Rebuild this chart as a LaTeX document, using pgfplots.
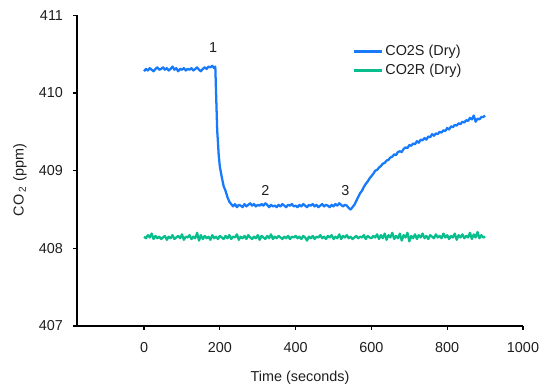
\documentclass[border=0pt]{standalone}
\usepackage{pgfplots}
\pgfplotsset{compat=1.18}
\usepackage{fontspec}
\setmainfont{Liberation Sans}
\definecolor{cblue}{RGB}{22,122,250}
\definecolor{cgreen}{RGB}{8,190,140}
\definecolor{ctext}{RGB}{30,30,30}
\newcommand{\ff}{\fontsize{10.8pt}{13pt}\selectfont}
\begin{document}
\begin{tikzpicture}
\useasboundingbox (-57.75pt,-48pt) rectangle (357pt,244.5pt);
\begin{axis}[
  scale only axis, width=334.5pt, height=233pt,
  xmin=-177, xmax=1000, ymin=407, ymax=411,
  axis x line*=bottom, axis y line*=left,
  axis line style={line width=0.9pt, -},
  xtick={0,200,400,600,800,1000},
  ytick={407,408,409,410,411},
  tick align=outside, major tick length=3pt,
  tick style={line width=0.9pt, black},
  /pgf/number format/assume math mode=true,
  /pgf/number format/1000 sep={},
  tick label style={font=\ff, text=ctext},
  xticklabel style={yshift=-6pt},
  yticklabel style={xshift=-4pt},
  xlabel={Time (seconds)},
  ylabel={CO\,\textsubscript{2}\,\,(ppm)},
  xlabel style={font=\ff, text=ctext, at={(axis description cs:0.5,-0.167)}, anchor=center},
  ylabel style={font=\ff, text=ctext, at={(axis description cs:-0.128,0.47)}, anchor=center},
  clip=false,
  legend style={draw=none, fill=none, at={(rel axis cs:0.617,0.913)}, anchor=north west, font=\ff, text=ctext, row sep=1pt, inner sep=0pt},
  legend cell align=left,
  legend image code/.code={\draw[#1] (0pt,0pt) -- (21pt,0pt);},
]
\addplot[cblue, line width=1.7pt, line join=round] coordinates {
(0,410.28)(5,410.31)(10,410.29)(15,410.32)(20,410.30)(25,410.28)(30,410.31)(35,410.33)(40,410.30)(45,410.31)
(50,410.33)(55,410.30)(60,410.32)(65,410.29)(70,410.31)(75,410.34)(80,410.30)(85,410.32)(90,410.28)(95,410.31)
(100,410.30)(105,410.32)(110,410.29)(115,410.31)(120,410.30)(125,410.32)(130,410.29)(135,410.31)(140,410.33)(145,410.30)
(150,410.28)(155,410.31)(160,410.33)(165,410.31)(170,410.34)(175,410.33)(180,410.35)(185,410.32)(188,410.34)(190,410.00)
(193,409.52)(197,409.20)(200,409.05)(205,408.92)(210,408.80)(215,408.74)(220,408.66)(225,408.60)(230,408.57)(235,408.54)
(240,408.57)(245,408.53)(250,408.56)(255,408.55)(260,408.53)(265,408.57)(270,408.54)(275,408.56)(280,408.58)(285,408.55)
(290,408.57)(295,408.54)(300,408.56)(305,408.55)(310,408.57)(315,408.55)(320,408.58)(325,408.56)(330,408.53)(335,408.56)
(340,408.54)(345,408.55)(350,408.53)(355,408.56)(360,408.54)(365,408.57)(370,408.55)(375,408.53)(380,408.56)(385,408.55)
(390,408.57)(395,408.54)(400,408.55)(405,408.53)(410,408.56)(415,408.54)(420,408.57)(425,408.55)(430,408.53)(435,408.56)
(440,408.55)(445,408.57)(450,408.54)(455,408.56)(460,408.53)(465,408.55)(470,408.57)(475,408.54)(480,408.56)(485,408.55)
(490,408.53)(495,408.56)(500,408.54)(505,408.57)(510,408.55)(515,408.58)(520,408.56)(525,408.54)(530,408.56)(535,408.55)
(540,408.52)(545,408.50)(550,408.53)(555,408.56)(560,408.61)(565,408.66)(570,408.71)(575,408.74)(580,408.79)(585,408.83)
(590,408.86)(595,408.90)(600,408.93)(605,408.96)(610,409.00)(615,409.01)(620,409.04)(625,409.06)(630,409.09)(635,409.10)
(640,409.13)(645,409.14)(650,409.17)(655,409.18)(660,409.21)(665,409.20)(670,409.24)(675,409.25)(680,409.24)(685,409.28)
(690,409.30)(695,409.29)(700,409.33)(705,409.32)(710,409.35)(715,409.34)(720,409.38)(725,409.36)(730,409.40)(735,409.39)
(740,409.42)(745,409.40)(750,409.44)(755,409.43)(760,409.47)(765,409.45)(770,409.48)(775,409.47)(780,409.50)(785,409.49)
(790,409.52)(795,409.51)(800,409.55)(805,409.53)(810,409.57)(815,409.56)(820,409.59)(825,409.58)(830,409.61)(835,409.60)
(840,409.63)(845,409.62)(850,409.65)(855,409.64)(860,409.68)(865,409.66)(870,409.71)(875,409.63)(880,409.67)(885,409.66)
(890,409.69)(895,409.69)(900,409.71)
};
\addlegendentry{CO2S (Dry)}
\addplot[cgreen, line width=1.7pt, line join=round] coordinates {
(0,408.15)(5,408.13)(10,408.17)(15,408.14)(20,408.19)(25,408.12)(30,408.16)(35,408.13)(40,408.15)(45,408.12)
(50,408.14)(55,408.16)(60,408.11)(65,408.15)(70,408.13)(75,408.17)(80,408.12)(85,408.14)(90,408.16)(95,408.13)
(100,408.18)(105,408.11)(110,408.15)(115,408.14)(120,408.17)(125,408.12)(130,408.15)(135,408.13)(140,408.20)(145,408.10)
(150,408.17)(155,408.12)(160,408.16)(165,408.13)(170,408.15)(175,408.11)(180,408.17)(185,408.13)(190,408.15)(195,408.12)
(200,408.16)(205,408.14)(210,408.12)(215,408.16)(220,408.13)(225,408.17)(230,408.12)(235,408.15)(240,408.14)(245,408.18)
(250,408.11)(255,408.15)(260,408.13)(265,408.16)(270,408.12)(275,408.17)(280,408.14)(285,408.12)(290,408.15)(295,408.13)
(300,408.17)(305,408.11)(310,408.16)(315,408.14)(320,408.12)(325,408.16)(330,408.13)(335,408.18)(340,408.12)(345,408.15)
(350,408.13)(355,408.16)(360,408.14)(365,408.12)(370,408.15)(375,408.13)(380,408.16)(385,408.12)(390,408.15)(395,408.14)
(400,408.16)(405,408.13)(410,408.15)(415,408.12)(420,408.16)(425,408.14)(430,408.10)(435,408.15)(440,408.13)(445,408.16)
(450,408.12)(455,408.15)(460,408.14)(465,408.17)(470,408.13)(475,408.15)(480,408.12)(485,408.16)(490,408.14)(495,408.17)
(500,408.12)(505,408.15)(510,408.13)(515,408.18)(520,408.12)(525,408.16)(530,408.14)(535,408.17)(540,408.13)(545,408.15)
(550,408.12)(555,408.14)(560,408.16)(565,408.13)(570,408.15)(575,408.14)(580,408.17)(585,408.12)(590,408.16)(595,408.14)
(600,408.13)(605,408.16)(610,408.14)(615,408.18)(620,408.12)(625,408.17)(630,408.13)(635,408.19)(640,408.11)(645,408.17)
(650,408.14)(655,408.20)(660,408.12)(665,408.16)(670,408.13)(675,408.19)(680,408.10)(685,408.17)(690,408.14)(695,408.20)
(700,408.09)(705,408.16)(710,408.13)(715,408.18)(720,408.12)(725,408.17)(730,408.14)(735,408.19)(740,408.13)(745,408.16)
(750,408.12)(755,408.17)(760,408.15)(765,408.13)(770,408.18)(775,408.14)(780,408.16)(785,408.13)(790,408.19)(795,408.14)
(800,408.17)(805,408.12)(810,408.16)(815,408.14)(820,408.19)(825,408.11)(830,408.17)(835,408.14)(840,408.18)(845,408.13)
(850,408.16)(855,408.14)(860,408.20)(865,408.12)(870,408.18)(875,408.14)(880,408.21)(885,408.13)(890,408.17)(895,408.14)
(900,408.15)
};
\addlegendentry{CO2R (Dry)}
\node[font=\ff, text=ctext] at (axis cs:182,410.58) {1};
\node[font=\ff, text=ctext] at (axis cs:320,408.75) {2};
\node[font=\ff, text=ctext] at (axis cs:531,408.75) {3};
\end{axis}
\end{tikzpicture}
\end{document}
